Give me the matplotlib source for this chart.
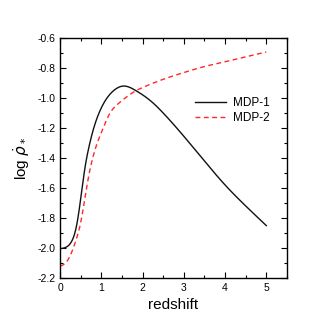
import matplotlib
matplotlib.use("Agg")
import matplotlib.pyplot as plt
from matplotlib.ticker import MultipleLocator
import numpy as np

plt.rcParams['font.family'] = ['Liberation Sans', 'DejaVu Sans']

z1 = [0.0, 0.1, 0.2, 0.3, 0.4, 0.5, 0.6, 0.7, 0.8, 0.9, 1.0, 1.1, 1.3, 1.53, 1.84, 2.2, 2.5, 3.0, 3.5, 4.0, 4.5, 5.0]
mdp1 = [-2.005, -2.0, -1.985, -1.945, -1.85, -1.67, -1.47, -1.325, -1.215, -1.13, -1.065, -1.015, -0.95, -0.92, -0.951, -1.02, -1.10, -1.255, -1.42, -1.58, -1.72, -1.851]
z2 = [0.0, 0.1, 0.2, 0.3, 0.4, 0.5, 0.6, 0.7, 0.8, 0.9, 1.0, 1.2, 1.4, 1.6, 1.84, 2.0, 2.5, 3.0, 3.5, 4.0, 4.5, 5.0]
mdp2 = [-2.122, -2.108, -2.075, -2.015, -1.935, -1.83, -1.67, -1.51, -1.39, -1.3, -1.23, -1.105, -1.04, -0.995, -0.951, -0.93, -0.875, -0.83, -0.79, -0.758, -0.725, -0.693]


def spline(x, y, n=400):
    x = np.asarray(x, float); y = np.asarray(y, float)
    N = len(x); h = np.diff(x)
    A = np.zeros((N, N)); b = np.zeros(N)
    A[0, 0] = 1; A[-1, -1] = 1
    for i in range(1, N - 1):
        A[i, i-1] = h[i-1]; A[i, i] = 2 * (h[i-1] + h[i]); A[i, i+1] = h[i]
        b[i] = 6 * ((y[i+1] - y[i]) / h[i] - (y[i] - y[i-1]) / h[i-1])
    M = np.linalg.solve(A, b)
    xs = np.linspace(x[0], x[-1], n)
    k = np.clip(np.searchsorted(x, xs) - 1, 0, N - 2)
    t1 = x[k+1] - xs; t0 = xs - x[k]; hk = h[k]
    ys = (M[k] * t1**3 + M[k+1] * t0**3) / (6 * hk) + (y[k] / hk - M[k] * hk / 6) * t1 + (y[k+1] / hk - M[k+1] * hk / 6) * t0
    return xs, ys


fig = plt.figure(figsize=(3.34, 3.34), dpi=100)
ax = fig.add_axes([0.180, 0.168, 0.679, 0.718])
x1, y1 = spline(z1, mdp1)
x2, y2 = spline(z2, mdp2)
ax.plot(x1, y1, color='#111111', lw=1.0, label='MDP-1')
ax.plot(x2, y2, color='#ff2828', lw=1.0, ls=(0, (3.5, 2.5)), label='MDP-2')
ax.set_xlim(0, 5.5)
ax.set_ylim(-2.2, -0.6)
ax.xaxis.set_minor_locator(MultipleLocator(0.5))
ax.yaxis.set_minor_locator(MultipleLocator(0.1))
ax.tick_params(which='both', direction='in', top=True, right=True, labelsize=7.5, width=0.8)
ax.tick_params(which='major', length=4)
ax.tick_params(which='minor', length=2.5)
xt = [0, 1, 2, 3, 4, 5]
ax.set_xticks(xt)
ax.set_xticklabels([str(v) for v in xt])
yt = [-2.2, -2.0, -1.8, -1.6, -1.4, -1.2, -1.0, -0.8, -0.6]
ax.set_yticks(yt)
ax.set_yticklabels(['%.1f' % v for v in yt])
for s in ax.spines.values():
    s.set_linewidth(1.0)
ax.set_xlabel('redshift', fontsize=11)
ax.set_ylabel(r'log $\dot{\rho}_*$', fontsize=11)
ax.legend(loc='upper right', bbox_to_anchor=(0.97, 0.8), frameon=False, fontsize=8.5,
          handlelength=2.6, handletextpad=0.6, labelspacing=0.3)
fig.savefig('out.png', dpi=100)
